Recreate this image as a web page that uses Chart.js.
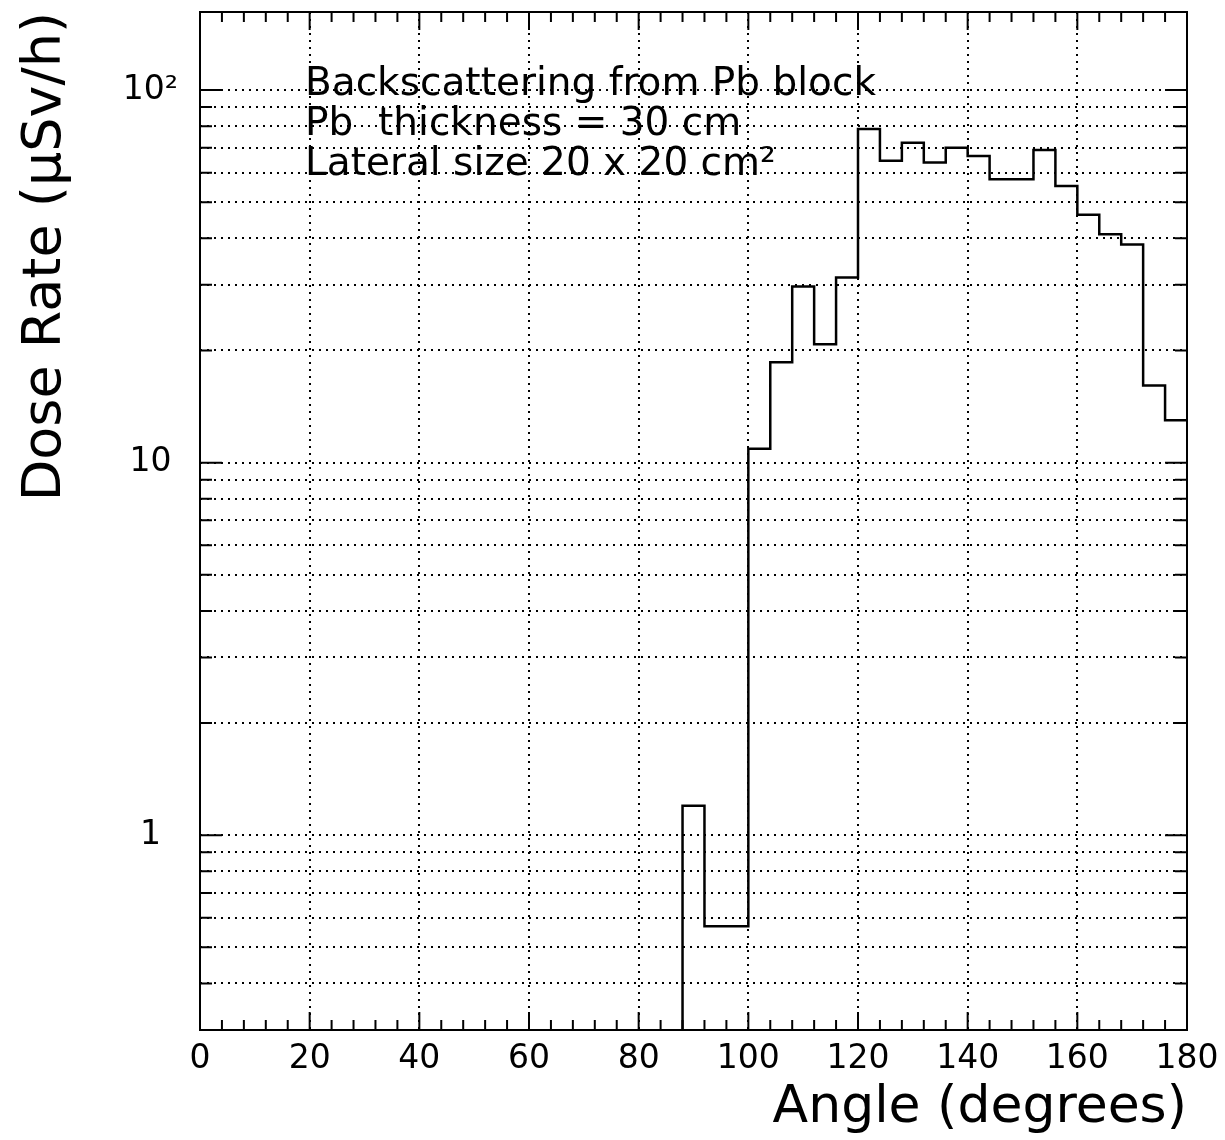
<!DOCTYPE html>
<html lang="en">
<head>
  <meta charset="UTF-8" />
  <title>Backscattering from Pb block</title>
  <script src="https://cdn.jsdelivr.net/npm/chart.js"></script>
  <style>
    html, body { margin: 0; padding: 0; background: #fff; }
    .chart-container { position: relative; width: 1225px; height: 1140px; }
  </style>
</head>
<body>
  <div class="chart-container">
    <canvas id="doseChart"></canvas>
  </div>

  <script>
    // 4-degree angle bins, edges in degrees
    const binEdges = [0, 4, 8, 12, 16, 20, 24, 28, 32, 36, 40, 44, 48, 52, 56, 60, 64, 68, 72, 76, 80, 84,
                      88, 92, 96, 100, 104, 108, 112, 116, 120, 124, 128, 132, 136, 140, 144, 148, 152, 156,
                      160, 164, 168, 172, 176, 180];
    // dose rate per bin (uSv/h), 0 = empty bin
    const doseRate = [0, 0, 0, 0, 0, 0, 0, 0, 0, 0, 0, 0, 0, 0, 0, 0, 0, 0, 0, 0, 0, 0,
                      1.2, 0.57, 0.57, 10.9, 18.6, 29.7, 20.8, 31.4, 78.6, 64.6, 72.2, 63.9, 70.0, 66.5,
                      57.6, 57.6, 69.0, 55.3, 46.3, 41.0, 38.5, 16.1, 13.0];

    const yGridValues = [0.3, 0.4, 0.5, 0.6, 0.7, 0.8, 0.9, 1, 2, 3, 4, 5, 6, 7, 8, 9,
                         10, 20, 30, 40, 50, 60, 70, 80, 90, 100];
    const yTickLabels = { 1: '1', 10: '10', 100: '10²' };
    const noteLines = ['Backscattering from Pb block', 'Pb  thickness = 30 cm', 'Lateral size 20 x 20 cm²'];

    const Y_MIN = 0.3, Y_MAX = 162;
    const FONT = '"DejaVu Sans", sans-serif';

    Chart.defaults.font.family = FONT;
    Chart.defaults.color = '#000';

    // one point per left bin edge (plus the closing edge at 180);
    // empty bins fall below the axis so the step drops out of the frame
    const points = binEdges.map((e, i) => {
      const v = doseRate[Math.min(i, doseRate.length - 1)];
      return { x: e, y: v > 0 ? v : Y_MIN / 10 };
    });

    // frame, inward ticks and the text box
    const framePlugin = {
      id: 'frame',
      afterDraw(chart) {
        const { ctx, chartArea: a, scales: { x, y } } = chart;
        ctx.save();
        ctx.strokeStyle = '#000';
        ctx.lineWidth = 2;
        ctx.strokeRect(a.left, a.top, a.right - a.left, a.bottom - a.top);

        ctx.beginPath();
        binEdges.forEach(v => {
          const px = x.getPixelForValue(v);
          const len = v % 20 === 0 ? 18 : 10;
          ctx.moveTo(px, a.bottom); ctx.lineTo(px, a.bottom - len);
          ctx.moveTo(px, a.top); ctx.lineTo(px, a.top + len);
        });
        yGridValues.forEach(v => {
          const py = y.getPixelForValue(v);
          const len = yTickLabels[v] ? 22 : 12;
          ctx.moveTo(a.left, py); ctx.lineTo(a.left + len, py);
          ctx.moveTo(a.right, py); ctx.lineTo(a.right - len, py);
        });
        ctx.stroke();

        ctx.fillStyle = '#000';
        ctx.font = '39px ' + FONT;
        ctx.textBaseline = 'alphabetic';
        noteLines.forEach((t, i) => ctx.fillText(t, a.left + 105, a.top + 83 + i * 40));
        ctx.restore();
      }
    };

    const ctx = document.getElementById('doseChart').getContext('2d');
    new Chart(ctx, {
      type: 'line',
      data: {
        datasets: [{
          data: points,
          stepped: 'before',
          borderColor: '#000',
          borderWidth: 2.5,
          pointRadius: 0,
          fill: false
        }]
      },
      options: {
        responsive: true,
        maintainAspectRatio: false,
        animation: false,
        layout: { padding: { top: 12, right: 38, left: 0, bottom: 0 } },
        plugins: { legend: { display: false }, tooltip: { enabled: false } },
        scales: {
          x: {
            type: 'linear',
            min: 0,
            max: 180,
            ticks: { stepSize: 20, font: { size: 33 }, color: '#000', padding: 10, maxRotation: 0 },
            grid: { color: '#000', lineWidth: 2, drawTicks: false },
            border: { display: false, dash: [2, 5] },
            title: {
              display: true, text: 'Angle (degrees)', align: 'end',
              font: { size: 52 }, color: '#000', padding: { top: 0, bottom: 0 }
            },
            afterFit: s => { s.height = 110; s.paddingLeft = 0; s.paddingRight = 0; }
          },
          y: {
            type: 'logarithmic',
            min: Y_MIN,
            max: Y_MAX,
            afterBuildTicks: s => { s.ticks = yGridValues.map(v => ({ value: v })); },
            ticks: {
              callback: v => yTickLabels[v] || '',
              font: { size: 33 }, color: '#000', padding: 22,
              crossAlign: 'center', autoSkip: false
            },
            grid: { color: '#000', lineWidth: 2, drawTicks: false },
            border: { display: false, dash: [2, 5] },
            title: {
              display: true, text: 'Dose Rate (μSv/h)', align: 'end',
              font: { size: 54 }, color: '#000', padding: { top: 14, bottom: 0 }
            },
            afterFit: s => { s.width = 200; s.paddingTop = 0; s.paddingBottom = 0; }
          }
        }
      },
      plugins: [framePlugin]
    });
  </script>
</body>
</html>
